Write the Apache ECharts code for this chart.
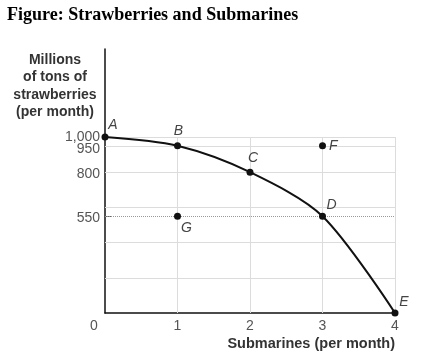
<!DOCTYPE html>
<html><head><meta charset="utf-8">
<script src="https://cdn.jsdelivr.net/npm/echarts@6/dist/echarts.min.js"></script>
<style>html,body{margin:0;padding:0;background:#fff}#c{width:421px;height:362px}</style>
</head><body><div id="c"></div>
<script>
// ---- data ----
const curveX = [0, 1, 2, 3, 4];
const curveY = [1000, 950, 800, 550, 0];
const curveLabels = ['A', 'B', 'C', 'D', 'E'];
const offX = [3, 1];
const offY = [950, 550];
const offLabels = ['F', 'G'];
const yLabelValues = [550, 800, 950];
const yTopLabelValues = [1000];
const yTickValues = [550, 800, 950];
const xLabelValues = [1, 2, 3, 4];
const xTickValues = [1, 2, 3];
const hGridValues = [200, 400, 600, 800, 950, 1000];
const vGridValues = [1, 2, 3, 4];
const dottedLevel = 550;
const titleText = 'Figure: Strawberries and Submarines';
const yName = 'Millions\nof tons of\nstrawberries\n(per month)';
const xName = 'Submarines (per month)';

// ---- styles ----
const labelPos = {
  A: {position: 'top', offset: [8, 4]},
  B: {position: 'top', offset: [1, 1]},
  C: {position: 'top', offset: [3, 1]},
  D: {position: 'top', offset: [9, 4]},
  E: {position: 'top', offset: [9, 5]},
  F: {position: 'right', offset: [-2, 0]},
  G: {position: 'bottom', offset: [9, -4]}
};
const labStyle = {fontFamily: 'Liberation Sans', fontStyle: 'italic', fontSize: 14, color: '#444'};
function mkItem(x, y, name) {
  return {value: [x, y], name: name,
    label: Object.assign({show: true, formatter: name}, labStyle, labelPos[name])};
}
const curveData = curveX.map((x, i) => mkItem(x, curveY[i], curveLabels[i]));
const offData = offX.map((x, i) => mkItem(x, offY[i], offLabels[i]));

const gridLines = [];
hGridValues.forEach(v => gridLines.push([{coord: [0, v]}, {coord: [4, v]}]));
vGridValues.forEach(v => gridLines.push([{coord: [v, 0]}, {coord: [v, 1000]}]));

const tickFont = {color: '#555', fontFamily: 'Liberation Sans', fontSize: 14};
const richStyles = {
  n: {fontFamily: 'Liberation Sans', fontSize: 14, color: '#555', padding: [3, 0, 0, 0]},
  low: {fontFamily: 'Liberation Sans', fontSize: 14, color: '#555', padding: [7, 0, 0, 0]}
};
const chart = echarts.init(document.getElementById('c'), null, {renderer: 'canvas'});
chart.setOption({
  animation: false,
  title: {text: titleText, left: 2, top: 1,
    textStyle: {fontFamily: 'Liberation Serif', fontWeight: 'bold', fontSize: 18, color: '#000'}},
  grid: {left: 105, right: 26, top: 49, bottom: 49, containLabel: false},
  xAxis: {type: 'value', min: 0, max: 4, interval: 1,
    axisLine: {lineStyle: {color: '#111', width: 1.5}},
    axisTick: {inside: true, length: 5, customValues: xTickValues, lineStyle: {color: '#666'}},
    axisLabel: Object.assign({customValues: xLabelValues, margin: 6}, tickFont),
    splitLine: {show: false}},
  yAxis: [
    {type: 'value', min: 0, max: 1500,
      axisLine: {show: true, lineStyle: {color: '#111', width: 1.5}},
      axisTick: {show: true, inside: true, length: 6, customValues: yTickValues, lineStyle: {color: '#666'}},
      axisLabel: Object.assign({customValues: yLabelValues, hideOverlap: false, margin: 5,
        formatter: v => (v === 950 ? '{low|' : '{n|') + v.toLocaleString('en-US') + '}',
        rich: richStyles}, tickFont),
      splitLine: {show: false}},
    {type: 'value', min: 0, max: 1500, position: 'left',
      axisLine: {show: false}, axisTick: {show: false},
      axisLabel: Object.assign({customValues: yTopLabelValues, margin: 5,
        formatter: v => v.toLocaleString('en-US')}, tickFont),
      splitLine: {show: false}}
  ],
  graphic: [
    {type: 'text', x: 55, y: 51, style: {text: yName, textAlign: 'center', fontFamily: 'Liberation Sans',
      fontWeight: 'bold', fontSize: 14, lineHeight: 17.5, fill: '#333'}},
    {type: 'text', right: 26, top: 336, style: {text: xName, fontFamily: 'Liberation Sans',
      fontWeight: 'bold', fontSize: 14.5, fill: '#333'}},
    {type: 'text', left: 90, top: 319, style: {text: '0', fontFamily: 'Liberation Sans', fontSize: 14, fill: '#555'}}
  ],
  series: [
    {type: 'line', data: [], silent: true, z: 1,
      markLine: {silent: true, symbol: 'none', label: {show: false},
        lineStyle: {color: '#dcdcdc', width: 1, type: 'solid'}, data: gridLines}},
    {type: 'line', data: [], silent: true, z: 2,
      markLine: {silent: true, symbol: 'none', label: {show: false},
        lineStyle: {color: '#999', width: 1, type: 'dotted'},
        data: [[{coord: [0, dottedLevel]}, {coord: [4, dottedLevel]}]]}},
    {type: 'line', data: curveData, smooth: 0.3, z: 5,
      symbol: 'circle', symbolSize: 7,
      itemStyle: {color: '#111'}, lineStyle: {color: '#111', width: 2}},
    {type: 'scatter', data: offData, symbol: 'circle', symbolSize: 7, z: 5,
      itemStyle: {color: '#111', opacity: 1}}
  ]
});
</script></body></html>
